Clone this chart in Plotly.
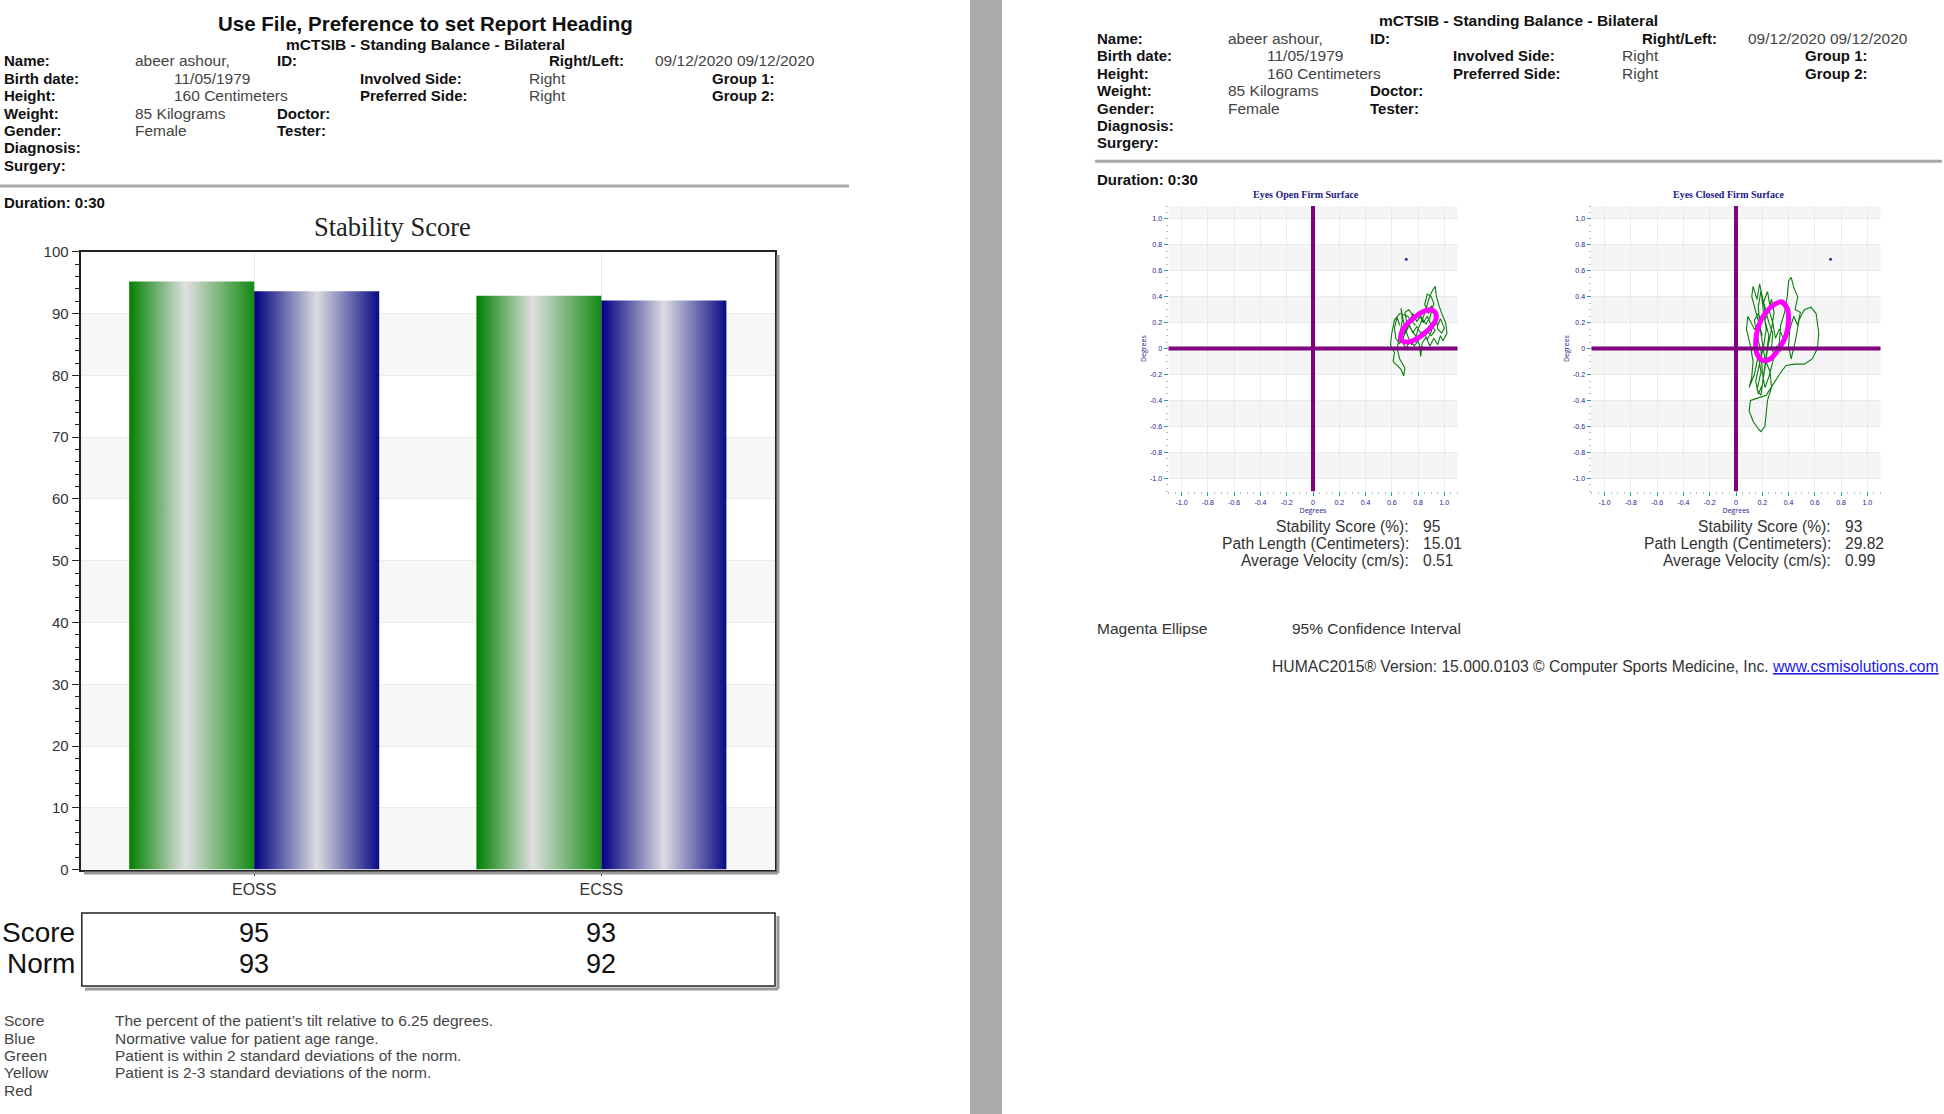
import plotly.graph_objects as go

W, H = 1944, 1114
SANS = "Liberation Sans, Arial, sans-serif"
SERIF = "Liberation Serif, Times New Roman, serif"

# ---------------- data ----------------
categories = ["EOSS", "ECSS"]
score_bar = [95.2, 92.9]
norm_bar = [93.6, 92.1]
score_table = ["95", "93"]
norm_table = ["93", "92"]
bar_tick_vals = [0, 10, 20, 30, 40, 50, 60, 70, 80, 90, 100]

stab_tick_vals = [-1.0, -0.8, -0.6, -0.4, -0.2, 0.0, 0.2, 0.4, 0.6, 0.8, 1.0]
stab_tick_text = ["-1.0", "-0.8", "-0.6", "-0.4", "-0.2", "0", "0.2", "0.4", "0.6", "0.8", "1.0"]

open_path = [(0.78, 0.18), (0.72, 0.25), (0.66, 0.27), (0.62, 0.22), (0.60, 0.12), (0.59, 0.03),
             (0.62, -0.03), (0.61, -0.10), (0.64, -0.13), (0.67, -0.16), (0.69, -0.21), (0.70, -0.15),
             (0.66, -0.08), (0.64, 0.00), (0.66, 0.10), (0.68, 0.22), (0.67, 0.31), (0.69, 0.20),
             (0.72, 0.10), (0.75, 0.03), (0.78, 0.08), (0.80, 0.15), (0.83, 0.22), (0.86, 0.30),
             (0.88, 0.38), (0.91, 0.45), (0.93, 0.48), (0.94, 0.40), (0.96, 0.33), (0.98, 0.27),
             (1.01, 0.20), (1.02, 0.12), (0.99, 0.06), (0.97, 0.10), (0.95, 0.03), (0.92, 0.08),
             (0.89, 0.02), (0.86, 0.09), (0.83, 0.04), (0.82, -0.06), (0.81, 0.03), (0.78, 0.10),
             (0.74, 0.16), (0.71, 0.22), (0.70, 0.28), (0.73, 0.30), (0.77, 0.24), (0.80, 0.28),
             (0.84, 0.20), (0.87, 0.25), (0.90, 0.18), (0.93, 0.14), (0.90, 0.10), (0.86, 0.14),
             (0.82, 0.12), (0.79, 0.17), (0.76, 0.12), (0.73, 0.19), (0.70, 0.13), (0.68, 0.05),
             (0.71, 0.00), (0.74, 0.07), (0.77, 0.02), (0.80, 0.06), (0.84, 0.13), (0.87, 0.07),
             (0.90, 0.13), (0.92, 0.22), (0.95, 0.18), (0.97, 0.23), (1.00, 0.16), (0.98, 0.12),
             (0.95, 0.15), (0.93, 0.28), (0.90, 0.33), (0.88, 0.27), (0.85, 0.34), (0.87, 0.42),
             (0.90, 0.40), (0.92, 0.35), (0.89, 0.24), (0.86, 0.19), (0.82, 0.25), (0.79, 0.21),
             (0.76, 0.27), (0.74, 0.22), (0.72, 0.15), (0.69, 0.09), (0.66, 0.04), (0.63, 0.08),
             (0.62, 0.16), (0.64, 0.24), (0.66, 0.18)]

closed_path = [(0.20, 0.10), (0.15, 0.28), (0.12, 0.40), (0.13, 0.48), (0.16, 0.38), (0.18, 0.50),
               (0.20, 0.40), (0.22, 0.30), (0.19, 0.20), (0.14, 0.15), (0.09, 0.25), (0.08, 0.15),
               (0.11, 0.02), (0.13, -0.10), (0.12, -0.22), (0.10, -0.30), (0.14, -0.20), (0.17, -0.05),
               (0.19, -0.18), (0.16, -0.32), (0.19, -0.36), (0.21, -0.22), (0.23, -0.05), (0.25, 0.10),
               (0.22, 0.22), (0.26, 0.32), (0.24, 0.44), (0.21, 0.36), (0.25, 0.20), (0.28, 0.12),
               (0.27, 0.00), (0.30, -0.06), (0.33, 0.05), (0.34, 0.18), (0.37, 0.28), (0.39, 0.40),
               (0.40, 0.52), (0.42, 0.55), (0.44, 0.47), (0.47, 0.40), (0.45, 0.30), (0.49, 0.28),
               (0.47, 0.18), (0.44, 0.25), (0.41, 0.15), (0.40, 0.02), (0.42, -0.08), (0.45, 0.05),
               (0.48, 0.22), (0.52, 0.30), (0.57, 0.32), (0.61, 0.27), (0.63, 0.12), (0.62, 0.00),
               (0.58, -0.08), (0.52, -0.12), (0.45, -0.12), (0.38, -0.13), (0.33, -0.20), (0.28, -0.28),
               (0.23, -0.36), (0.17, -0.38), (0.11, -0.40), (0.10, -0.48), (0.13, -0.56), (0.17, -0.62),
               (0.19, -0.64), (0.22, -0.60), (0.23, -0.50), (0.24, -0.40), (0.27, -0.30), (0.26, -0.18),
               (0.22, -0.08), (0.20, 0.05), (0.18, 0.18), (0.17, 0.32), (0.19, 0.45), (0.21, 0.28),
               (0.23, 0.15), (0.21, 0.02), (0.18, -0.12), (0.15, -0.25), (0.17, -0.35), (0.20, -0.28),
               (0.22, -0.15), (0.24, 0.00), (0.27, 0.15), (0.29, 0.28), (0.27, 0.38), (0.25, 0.30),
               (0.28, 0.20), (0.30, 0.08), (0.33, 0.15), (0.36, 0.08), (0.34, -0.02), (0.31, 0.02),
               (0.28, -0.10), (0.25, -0.22), (0.22, -0.30), (0.20, -0.18), (0.19, -0.02), (0.16, 0.10),
               (0.14, 0.22), (0.17, 0.27), (0.20, 0.20)]

open_ellipse = [(0.93, 0.28), (0.94, 0.24), (0.91, 0.18), (0.85, 0.12), (0.78, 0.07), (0.71, 0.05),
                (0.67, 0.07), (0.67, 0.11), (0.70, 0.17), (0.76, 0.23), (0.83, 0.28), (0.89, 0.30)]
closed_ellipse = [(0.35, 0.36), (0.39, 0.31), (0.40, 0.22), (0.38, 0.10), (0.32, -0.01), (0.26, -0.08),
                  (0.20, -0.09), (0.16, -0.04), (0.15, 0.05), (0.17, 0.17), (0.22, 0.27), (0.29, 0.34)]
open_mark = (0.71, 0.69)
closed_mark = (0.72, 0.69)

stat_labels = ["Stability Score (%):", "Path Length (Centimeters):", "Average Velocity (cm/s):"]
open_stats = ["95", "15.01", "0.51"]
closed_stats = ["93", "29.82", "0.99"]

header_labels = ["Name:", "Birth date:", "Height:", "Weight:", "Gender:", "Diagnosis:", "Surgery:"]
header_values = ["abeer ashour,", "11/05/1979", "160 Centimeters", "85 Kilograms", "Female", "", ""]
mid_labels = ["ID:", "Involved Side:", "Preferred Side:", "Doctor:", "Tester:"]
side_values = ["", "Right", "Right", "", ""]
far_labels = ["Right/Left:", "Group 1:", "Group 2:"]
far_values = ["09/12/2020 09/12/2020", "", ""]

legend_keys = ["Score", "Blue", "Green", "Yellow", "Red"]
legend_texts = ["The percent of the patient\u2019s tilt relative to 6.25 degrees.",
                "Normative value for patient age range.",
                "Patient is within 2 standard deviations of the norm.",
                "Patient is 2-3 standard deviations of the norm.",
                ""]

# ---------------- helpers ----------------
annotations = []
shapes = []


def px(x):
    return x / W


def py(y):
    return 1 - y / H


def text(x, y, s, size=15.5, color="#444444", bold=False, anchor="left", family=SANS, xref="paper"):
    if bold:
        s = "<b>" + s + "</b>"
    annotations.append(dict(x=px(x) if xref == "paper" else x, y=py(y), xref=xref, yref="paper",
                            text=s, showarrow=False, xanchor=anchor, yanchor="middle",
                            font=dict(size=size, color=color, family=family)))


def pline(x0, y0, x1, y1, color, width):
    shapes.append(dict(type="line", xref="paper", yref="paper", x0=px(x0), y0=py(y0),
                       x1=px(x1), y1=py(y1), line=dict(color=color, width=width)))


fig = go.Figure()

# ---------------- headers ----------------
def header(dx, y0, title_y, line_y, line_x0, line_x1, dur_y):
    text(425 + dx, title_y, "mCTSIB - Standing Balance - Bilateral", size=15.5, color="#111",
         bold=True, anchor="center")
    step = 17.4
    val_x = [132.7, 172, 172, 132.7, 132.7, 132.7, 132.7]
    mid_x = [275, 358, 358, 275, 275]
    for i, lab in enumerate(header_labels):
        y = y0 + i * step
        text(1.5 + dx, y, lab, bold=True, color="#111", size=15)
        if header_values[i]:
            text(val_x[i] + dx, y, header_values[i])
    for i, lab in enumerate(mid_labels):
        y = y0 + i * step
        text(mid_x[i] + dx, y, lab, bold=True, color="#111", size=15)
        if side_values[i]:
            text(527 + dx, y, side_values[i])
    far_x = [626, 777, 777]
    for i, lab in enumerate(far_labels):
        y = y0 + i * step
        text(far_x[i] + dx, y, lab, bold=True, color="#111", size=15, anchor="right")
        if far_values[i]:
            text(653 + dx, y, far_values[i])
    pline(line_x0, line_y, line_x1, line_y, "#a8a8a8", 3)
    text(1.5 + dx, dur_y, "Duration: 0:30", bold=True, color="#111", size=15)


text(425, 23.6, "Use File, Preference to set Report Heading", size=20.5, color="#111", bold=True,
     anchor="center")
header(0, 60.8, 44.6, 186, 0, 849, 203)
header(1093, 38.4, 21, 161.2, 1095, 1942, 179.8)

# grey gutter between the pages
shapes.append(dict(type="rect", xref="paper", yref="paper", x0=px(970), x1=px(1002), y0=-0.02, y1=1.02,
                   fillcolor="#aaaaaa", line=dict(width=0)))

# ---------------- bar chart ----------------
text(392, 227, "Stability Score", size=26.5, color="#222", family=SERIF, anchor="center")
green_scale = [[0, "#008000"], [0.45, "#e0e0e0"], [1, "#138a13"]]
blue_scale = [[0, "#00007f"], [0.5, "#dcdce2"], [1, "#0a0a85"]]
half = 0.36
for i, cat in enumerate(categories):
    for x0, x1, v, cs in [(i - half, i, score_bar[i], green_scale), (i, i + half, norm_bar[i], blue_scale)]:
        fig.add_trace(go.Scatter(x=[x0, x0, x1, x1, x0], y=[0, v, v, 0, 0], fill="toself",
                                 mode="lines", line=dict(width=0, color="rgba(0,0,0,0)"),
                                 fillgradient=dict(type="horizontal", colorscale=cs),
                                 xaxis="x", yaxis="y", hoverinfo="skip", showlegend=False))

for k in range(0, 100, 20):
    shapes.append(dict(type="rect", xref="x domain", yref="y", x0=0, x1=1, y0=k, y1=k + 10,
                       fillcolor="#f7f7f7", line=dict(width=0), layer="below"))

# frame shadow
pline(778, 255, 778, 873, "#999999", 3)
pline(84, 873, 778, 873, "#999999", 3)

# table
shapes.append(dict(type="rect", xref="paper", yref="paper", x0=px(81.8), x1=px(775), y0=py(986),
                   y1=py(913), line=dict(color="#222", width=1.5)))
pline(778, 916, 778, 989, "#999999", 3)
pline(85, 989, 778, 989, "#999999", 3)
text(76.5, 932.8, "Score", size=28, color="#111", anchor="right")
text(76.5, 963.8, "Norm", size=28, color="#111", anchor="right")
for i in range(len(categories)):
    text(i, 932.8, score_table[i], size=27, color="#111", anchor="center", xref="x")
    text(i, 963.8, norm_table[i], size=27, color="#111", anchor="center", xref="x")

legend_y = [1020.5, 1038, 1055.5, 1072.6, 1090]
for k, t, y in zip(legend_keys, legend_texts, legend_y):
    text(1.5, y, k)
    if t:
        text(112.8, y, t)

# ---------------- stabilograms ----------------
def stabilogram(n, path, ellipse, mark, stats, title, cx, lab_end):
    xa, ya = "x%d" % n, "y%d" % n
    fig.add_trace(go.Scatter(x=[p[0] for p in path], y=[p[1] for p in path], mode="lines",
                             line=dict(color="#0a7d0a", width=1.1), xaxis=xa, yaxis=ya,
                             hoverinfo="skip", showlegend=False))
    ex = [p[0] for p in ellipse] + [ellipse[0][0], ellipse[1][0]]
    ey = [p[1] for p in ellipse] + [ellipse[0][1], ellipse[1][1]]
    fig.add_trace(go.Scatter(x=ex, y=ey, mode="lines", line=dict(color="#ff00ff", width=5, shape="spline"),
                             xaxis=xa, yaxis=ya, hoverinfo="skip", showlegend=False))
    fig.add_trace(go.Scatter(x=[mark[0]], y=[mark[1]], mode="markers",
                             marker=dict(color="#333399", size=3), xaxis=xa, yaxis=ya,
                             hoverinfo="skip", showlegend=False))
    for lo in [1.0, 0.6, 0.2, -0.2, -0.6, -1.0]:
        shapes.append(dict(type="rect", xref=xa + " domain", yref=ya, x0=0, x1=1, y0=lo,
                           y1=min(lo + 0.2, 1.1), fillcolor="#f5f5f5", line=dict(width=0),
                           layer="below"))
    shapes.append(dict(type="line", xref=xa, yref=ya + " domain", x0=0, x1=0, y0=0, y1=1,
                       line=dict(color="#800080", width=4)))
    shapes.append(dict(type="line", xref=xa + " domain", yref=ya, x0=0, x1=1, y0=0, y1=0,
                       line=dict(color="#800080", width=4)))
    text(cx, 194.7, title, size=10, color="#1a1a8c", family=SERIF, bold=True, anchor="center")
    for i, (lab, val) in enumerate(zip(stat_labels, stats)):
        y = 526 + i * 17.2
        text(lab_end, y, lab, size=15.6, color="#333", anchor="right")
        text(lab_end + 10, y, val, size=15.6, color="#333")


stabilogram(2, open_path, open_ellipse, open_mark, open_stats, "Eyes Open Firm Surface", 1306, 1411)
stabilogram(3, closed_path, closed_ellipse, closed_mark, closed_stats, "Eyes Closed Firm Surface", 1728.6, 1832.6)

text(1095, 628.8, "Magenta Ellipse", size=15.5, color="#333")
text(1289.6, 628.8, "95% Confidence Interval", size=15.5, color="#333")
text(1940.5, 666,
     "HUMAC2015\u00ae Version: 15.000.0103 \u00a9 Computer Sports Medicine, Inc. "
     "<span style='color:#1a1aee'><u>www.csmisolutions.com</u></span>",
     size=15.7, color="#333", anchor="right")

# ---------------- axes ----------------
stab_axis = dict(range=[-1.1, 1.1], tickvals=stab_tick_vals, ticktext=stab_tick_text,
                 tickfont=dict(size=7, color="#1a1a8c", family=SANS), ticks="outside",
                 tickcolor="#2a9d8f", ticklen=4, showgrid=True, gridcolor="#ebebeb",
                 zeroline=False, showline=False, fixedrange=True, automargin=False,
                 minor=dict(dtick=0.05, ticks="outside", ticklen=2, tickcolor="#bbbbbb", showgrid=False))

fig.update_layout(
    width=W, height=H, autosize=False,
    margin=dict(l=0, r=0, t=0, b=0, pad=0, autoexpand=False),
    paper_bgcolor="white", plot_bgcolor="white", showlegend=False,
    xaxis=dict(domain=[px(80.6), px(775)], range=[-0.5, 1.5], tickvals=[0, 1], ticktext=categories,
               tickfont=dict(size=16, color="#333", family=SANS), ticks="outside", ticklen=4,
               tickcolor="#222", showgrid=True, gridcolor="#ececec", zeroline=False, automargin=False,
               showline=True, mirror=True, linecolor="#222", linewidth=2, anchor="y"),
    yaxis=dict(domain=[py(869.6), py(251.8)], range=[0, 100], tickvals=bar_tick_vals,
               tickfont=dict(size=15, color="#333", family=SANS), ticks="outside", ticklen=7,
               tickcolor="#222", showgrid=True, gridcolor="#ececec", zeroline=False, automargin=False,
               showline=True, mirror=True, linecolor="#222", linewidth=2, anchor="x",
               minor=dict(dtick=2, ticks="outside", ticklen=4, tickcolor="#222", showgrid=False)),
    xaxis2=dict(stab_axis, domain=[px(1168.5), px(1457.5)], anchor="y2",
                title=dict(text="Degrees", font=dict(size=7, color="#1a1a8c"), standoff=2)),
    yaxis2=dict(stab_axis, domain=[py(491.2), py(206)], anchor="x2",
                title=dict(text="Degrees", font=dict(size=7, color="#1a1a8c"), standoff=2)),
    xaxis3=dict(stab_axis, domain=[px(1591.5), px(1880.5)], anchor="y3",
                title=dict(text="Degrees", font=dict(size=7, color="#1a1a8c"), standoff=2)),
    yaxis3=dict(stab_axis, domain=[py(491.2), py(206)], anchor="x3",
                title=dict(text="Degrees", font=dict(size=7, color="#1a1a8c"), standoff=2)),
    annotations=annotations, shapes=shapes,
)

fig.write_html("out.html", config={"displayModeBar": False},
               post_script=("document.body.style.margin='0px';"
                            "document.documentElement.style.margin='0px';"
                            "var d=document.getElementById('{plot_id}');"
                            "d.style.position='fixed';d.style.top='0px';d.style.left='0px';"))
